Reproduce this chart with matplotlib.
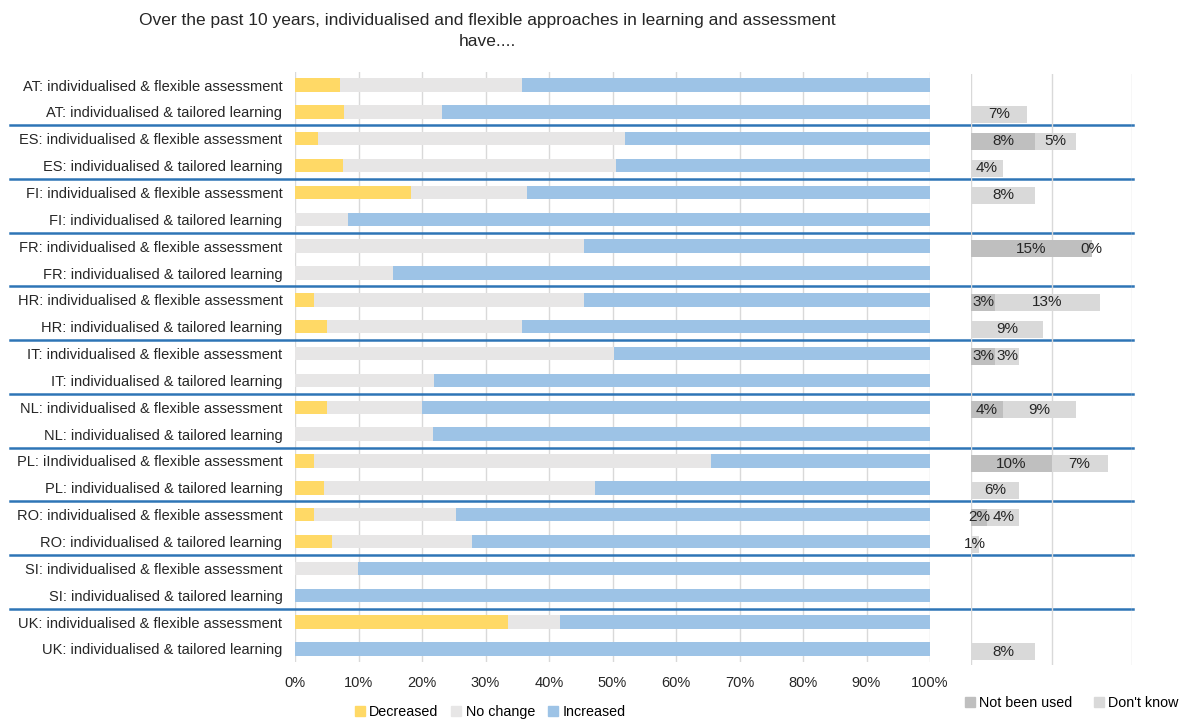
import matplotlib
matplotlib.use("Agg")
import matplotlib.pyplot as plt
from matplotlib.patches import Patch
import numpy as np

plt.rcParams['font.family'] = ['Liberation Sans', 'DejaVu Sans']

categories = [
    "AT: individualised & flexible assessment",
    "AT: individualised & tailored learning",
    "ES: individualised & flexible assessment",
    "ES: individualised & tailored learning",
    "FI: individualised & flexible assessment",
    "FI: individualised & tailored learning",
    "FR: individualised & flexible assessment",
    "FR: individualised & tailored learning",
    "HR: individualised & flexible assessment",
    "HR: individualised & tailored learning",
    "IT: individualised & flexible assessment",
    "IT: individualised & tailored learning",
    "NL: individualised & flexible assessment",
    "NL: individualised & tailored learning",
    "PL: iIndividualised & flexible assessment",
    "PL: individualised & tailored learning",
    "RO: individualised & flexible assessment",
    "RO: individualised & tailored learning",
    "SI: individualised & flexible assessment",
    "SI: individualised & tailored learning",
    "UK: individualised & flexible assessment",
    "UK: individualised & tailored learning",
]

decreased = [7.1, 7.7, 3.7, 7.5, 18.3, 0, 0, 0, 3.0, 5.0, 0, 0,
             5.0, 0, 3.0, 4.5, 3.0, 5.8, 0, 0, 33.5, 0]
no_change = [28.7, 15.5, 48.2, 43.1, 18.2, 8.4, 45.5, 15.5, 42.5, 30.8, 50.2, 21.9,
             15.0, 21.7, 62.5, 42.7, 22.3, 22.1, 9.9, 0, 8.3, 0]
increased = [64.2, 76.8, 48.1, 49.4, 63.5, 91.6, 54.5, 84.5, 54.5, 64.2, 49.8, 78.1,
             80.0, 78.3, 34.5, 52.8, 74.7, 72.1, 90.1, 100, 58.2, 100]

# Right panel (None = no answer shown)
not_been_used = [None, None, 8, None, None, None, 15, None, 3, None, 3, None,
                 4, None, 10, None, 2, None, None, None, None, None]
dont_know = [None, 7, 5, 4, 8, None, 0, None, 13, 9, 3, None,
             9, None, 7, 6, 4, 1, None, None, None, 8]

c_dec = "#FFD966"
c_nc = "#E7E6E6"
c_inc = "#9DC3E6"
c_nbu = "#BFBFBF"
c_dk = "#D9D9D9"
c_sep = "#2E75B6"
c_txt = "#262626"

W, H = 1191, 720
fig = plt.figure(figsize=(W / 100, H / 100), dpi=100)

n = len(categories)
y = np.arange(n)

ax = fig.add_axes([295 / W, 1 - 662.4 / H, 635 / W, (662.4 - 71.6) / H])
ax.patch.set_visible(False)
dec = np.array(decreased)
nc = np.array(no_change)
inc = np.array(increased)
bh = 0.5
ax.barh(y, dec, height=bh, color=c_dec, label="Decreased")
ax.barh(y, nc, left=dec, height=bh, color=c_nc, label="No change")
ax.barh(y, inc, left=dec + nc, height=bh, color=c_inc, label="Increased")
ax.set_xlim(0, 100)
ax.set_ylim(n - 0.5, -0.5)
ax.set_yticks(y)
ax.set_yticklabels(categories, fontsize=10.5, color=c_txt)
ax.set_xticks(np.arange(0, 101, 10))
ax.set_xticklabels([f"{v}%" for v in range(0, 101, 10)], fontsize=10.5, color=c_txt)
ax.tick_params(length=0)
ax.tick_params(axis='x', pad=10)
ax.tick_params(axis='y', pad=9)
ax.xaxis.grid(True, color="#D9D9D9", lw=1)
ax.set_axisbelow(True)
for s in ax.spines.values():
    s.set_visible(False)

# Right panel
ax2 = fig.add_axes([971 / W, 1 - 665 / H, 161 / W, (662.4 - 71.6) / H])
ax2.patch.set_visible(False)
nbu_vals = np.array([v if v is not None else 0 for v in not_been_used], dtype=float)
dk_vals = np.array([v if v is not None else 0 for v in dont_know], dtype=float)
bh2 = 0.63
ax2.barh(y, nbu_vals, height=bh2, color=c_nbu, label="Not been used")
ax2.barh(y, dk_vals, left=nbu_vals, height=bh2, color=c_dk, label="Don't know")
for i in range(n):
    if not_been_used[i] is not None:
        ax2.text(nbu_vals[i] / 2, i, f"{not_been_used[i]}%", ha="center", va="center",
                 fontsize=11, color=c_txt)
    if dont_know[i] is not None:
        ax2.text(nbu_vals[i] + dk_vals[i] / 2, i, f"{dont_know[i]}%", ha="center",
                 va="center", fontsize=11, color=c_txt)
ax2.set_xlim(0, 20)
ax2.set_ylim(n - 0.5, -0.5)
ax2.set_xticks([0, 10, 20])
ax2.set_xticklabels([])
ax2.set_yticks([])
ax2.tick_params(length=0)
ax2.xaxis.grid(True, color="#D9D9D9", lw=1)
ax2.set_axisbelow(True)
for s in ax2.spines.values():
    s.set_visible(False)

# Separator lines between countries
trans = ax.get_yaxis_transform()
x0 = (10 - 295) / 635
x1 = (1133 - 295) / 635
for k in range(1, n // 2):
    yy = 2 * k - 0.5
    ax.plot([x0, x1], [yy, yy], transform=trans, color=c_sep, lw=1.8,
            clip_on=False, zorder=5)

# Legends
h1 = [Patch(color=c_dec), Patch(color=c_nc), Patch(color=c_inc)]
fig.legend(h1, ["Decreased", "No change", "Increased"], loc="center",
           bbox_to_anchor=(490 / W, 1 - 712 / H), ncol=3, frameon=False,
           fontsize=10.3, handlelength=0.7, handleheight=0.7, handletextpad=0.3,
           columnspacing=0.9, borderpad=0)
h2 = [Patch(color=c_nbu), Patch(color=c_dk)]
fig.legend(h2, ["Not been used", "Don't know"], loc="center",
           bbox_to_anchor=(1072 / W, 1 - 703 / H), ncol=2, frameon=False,
           fontsize=10.3, handlelength=0.7, handleheight=0.7, handletextpad=0.3,
           columnspacing=1.5, borderpad=0)

fig.text(487 / W, 1 - 31 / H,
         "Over the past 10 years, individualised and flexible approaches in learning and assessment\nhave....",
         ha="center", va="center", fontsize=12.5, color=c_txt, linespacing=1.5)

fig.savefig("out.png", dpi=100)
